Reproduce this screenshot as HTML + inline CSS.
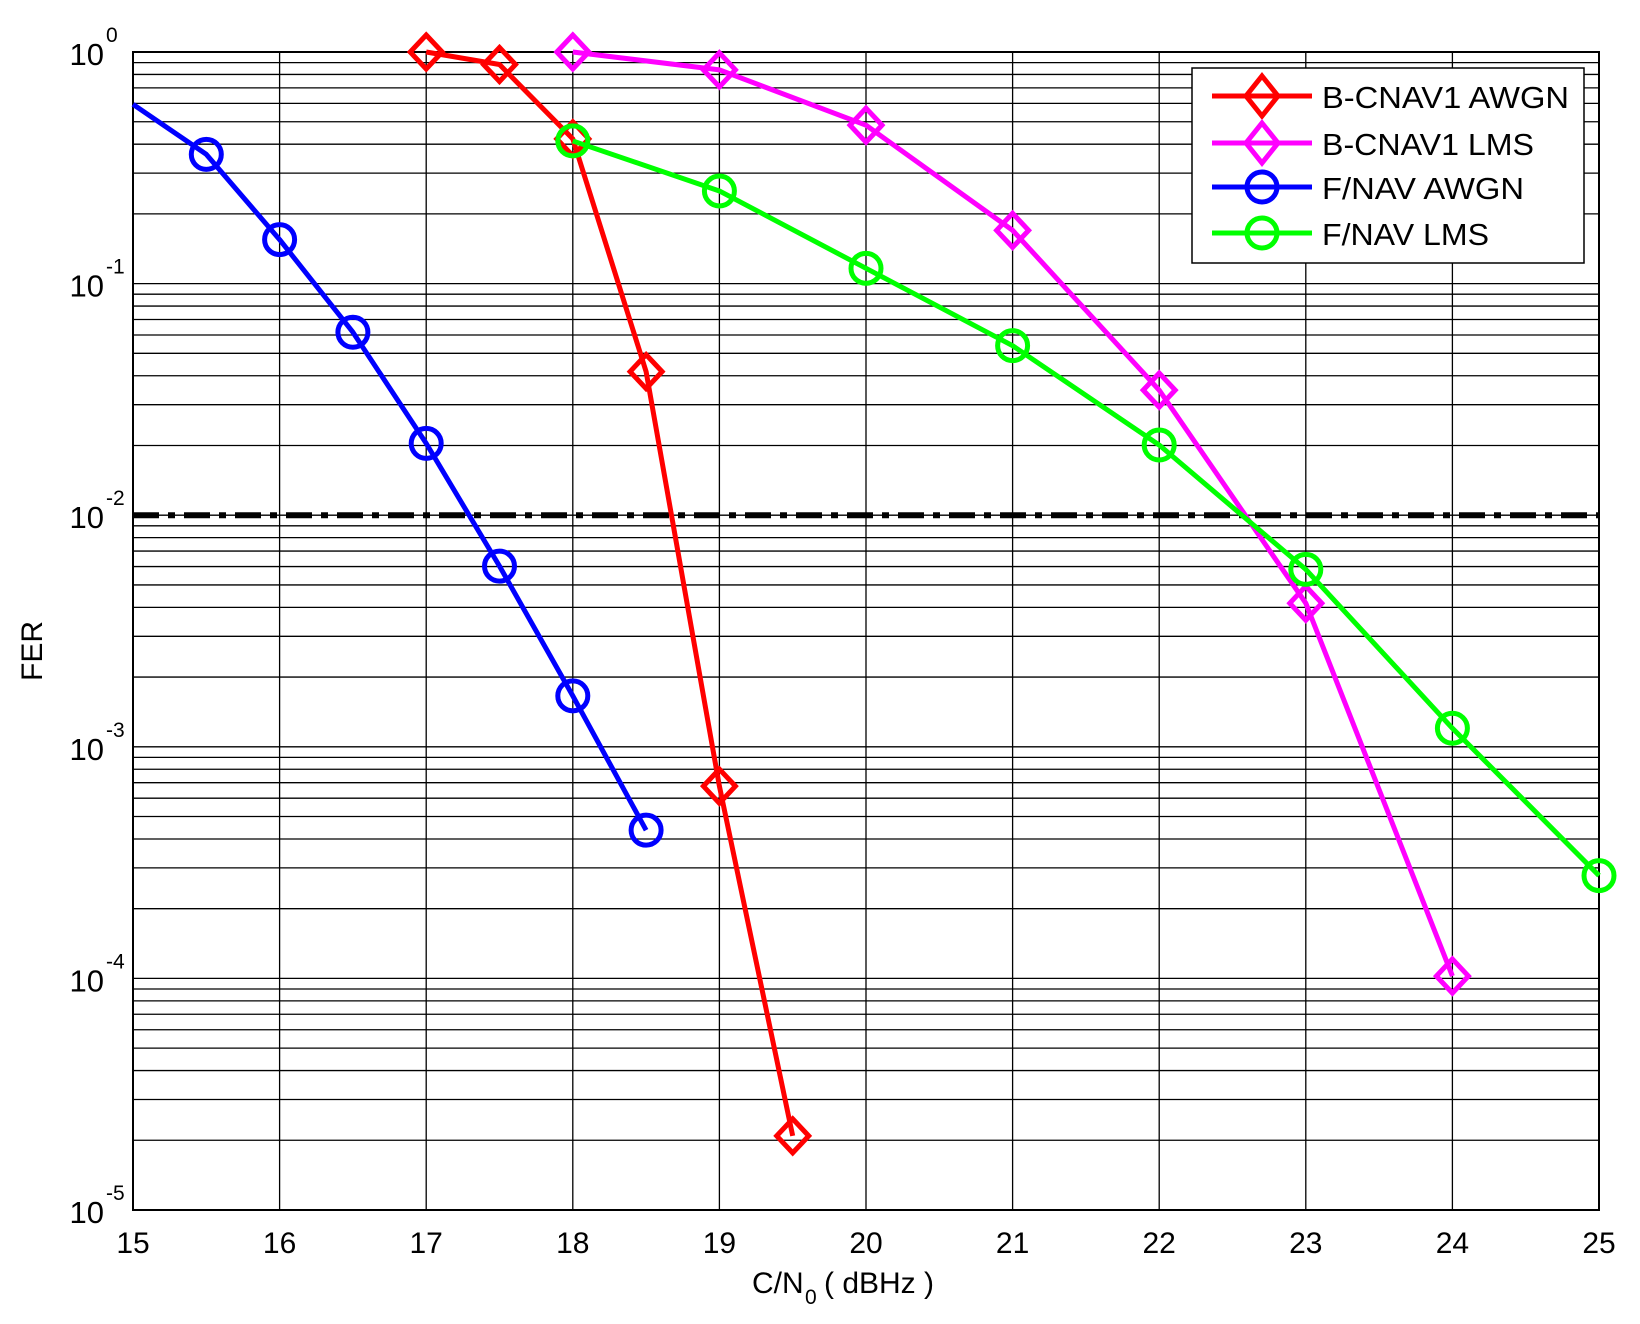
<!DOCTYPE html>
<html><head><meta charset="utf-8"><style>
html,body{margin:0;padding:0;background:#fff;}
svg{display:block;font-family:"Liberation Sans",Arial,sans-serif;}
</style></head><body>
<svg id="s" width="1640" height="1324" viewBox="0 0 1640 1324" xmlns="http://www.w3.org/2000/svg">
<rect width="1640" height="1324" fill="#fff"/>
<g id="grid"></g>
<g id="series"></g>
<g id="labels"></g>
<g id="legend">
<rect x="1192" y="68" width="392" height="195" fill="#fff" stroke="#000" stroke-width="1.5"/>
<line x1="1212" y1="96" x2="1312" y2="96" stroke="#f00" stroke-width="5"/>
<polygon points="1262,76 1278,96 1262,116 1246,96" fill="none" stroke="#f00" stroke-width="5"/>
<text x="1322" y="108" font-size="31" textLength="247" lengthAdjust="spacingAndGlyphs">B-CNAV1 AWGN</text>
<line x1="1212" y1="143" x2="1312" y2="143" stroke="#f0f" stroke-width="5"/>
<polygon points="1262,123 1278,143 1262,163 1246,143" fill="none" stroke="#f0f" stroke-width="5"/>
<text x="1322" y="155" font-size="31" textLength="212" lengthAdjust="spacingAndGlyphs">B-CNAV1 LMS</text>
<line x1="1212" y1="187" x2="1312" y2="187" stroke="#00f" stroke-width="5"/>
<circle cx="1262" cy="187" r="15" fill="none" stroke="#00f" stroke-width="5"/>
<text x="1322" y="199" font-size="31" textLength="202" lengthAdjust="spacingAndGlyphs">F/NAV AWGN</text>
<line x1="1212" y1="233" x2="1312" y2="233" stroke="#0f0" stroke-width="5"/>
<circle cx="1262" cy="233" r="15" fill="none" stroke="#0f0" stroke-width="5"/>
<text x="1322" y="245" font-size="31" textLength="167" lengthAdjust="spacingAndGlyphs">F/NAV LMS</text>
</g>
</svg>
<script>
var NS="http://www.w3.org/2000/svg";
function X(v){return 133+(v-15)*146.6;}
function Yd(d){return 52+d*231.6;}
function Y(f){return Yd(-Math.log10(f));}
function el(p,t,a,txt){var e=document.createElementNS(NS,t);for(var k in a)e.setAttribute(k,a[k]);if(txt!=null)e.textContent=txt;p.appendChild(e);return e;}
var g=document.getElementById('grid');
for(var v=16;v<=24;v++)el(g,'line',{x1:X(v),y1:52,x2:X(v),y2:1210,stroke:'#000','stroke-width':1.3});
for(var e=0;e>-5;e--){for(var m=1;m<=9;m++){var y=Y(m*Math.pow(10,e-1));if(y<1209)el(g,'line',{x1:133,y1:y,x2:1599,y2:y,stroke:'#000','stroke-width':1.3});}}
el(g,'rect',{x:133,y:52,width:1466,height:1158,fill:'none',stroke:'#000','stroke-width':2});
el(g,'line',{x1:133,y1:Y(0.01),x2:1599,y2:Y(0.01),stroke:'#000','stroke-width':6,'stroke-dasharray':'26 9 7 9'});
var s=document.getElementById('series');
function series(col,pts,mk){
 var p=pts.map(function(q){return X(q[0])+','+Yd(q[1]);}).join(' ');
 el(s,'polyline',{points:p,fill:'none',stroke:col,'stroke-width':5,'stroke-linejoin':'round'});
 pts.forEach(function(q,i){if(mk[i]===0)return;var x=X(q[0]),y=Yd(q[1]);
  if(mk[i]==='d')el(s,'polygon',{points:x+','+(y-17)+' '+(x+16)+','+y+' '+x+','+(y+17)+' '+(x-16)+','+y,fill:'none',stroke:col,'stroke-width':5});
  else el(s,'circle',{cx:x,cy:y,r:15,fill:'none',stroke:col,'stroke-width':5});});
}
series('#f00',[[17,0],[17.5,0.054],[18,0.375],[18.5,1.38],[19,3.17],[19.5,4.68]],'dddddd');
series('#f0f',[[18,0],[19,0.077],[20,0.316],[21,0.77],[22,1.46],[23,2.38],[24,3.99]],'ddddddd');
series('#00f',[[15,0.226],[15.5,0.442],[16,0.81],[16.5,1.21],[17,1.69],[17.5,2.22],[18,2.78],[18.5,3.36]],[0,'o','o','o','o','o','o','o']);
series('#0f0',[[18,0.384],[19,0.60],[20,0.934],[21,1.268],[22,1.697],[23,2.234],[24,2.92],[25,3.556]],'oooooooo');
var L=document.getElementById('labels');
for(var v=15;v<=25;v++)el(L,'text',{x:X(v),y:1253,'font-size':30,'text-anchor':'middle'},String(v));
for(var d=0;d<=5;d++){var y=Yd(d);
 el(L,'text',{x:104,y:y+13,'font-size':31,'text-anchor':'end'},'10');
 el(L,'text',{x:106,y:y-10,'font-size':21,'text-anchor':'start'},d==0?'0':'-'+d);}
el(L,'text',{x:752,y:1293,'font-size':30},'C/N');
el(L,'text',{x:805,y:1304,'font-size':21},'0');
el(L,'text',{x:824,y:1293,'font-size':30},'( dBHz )');
el(L,'text',{x:42,y:651,'font-size':30,'text-anchor':'middle',transform:'rotate(-90 42 651)'},'FER');
</script>
</body></html>
